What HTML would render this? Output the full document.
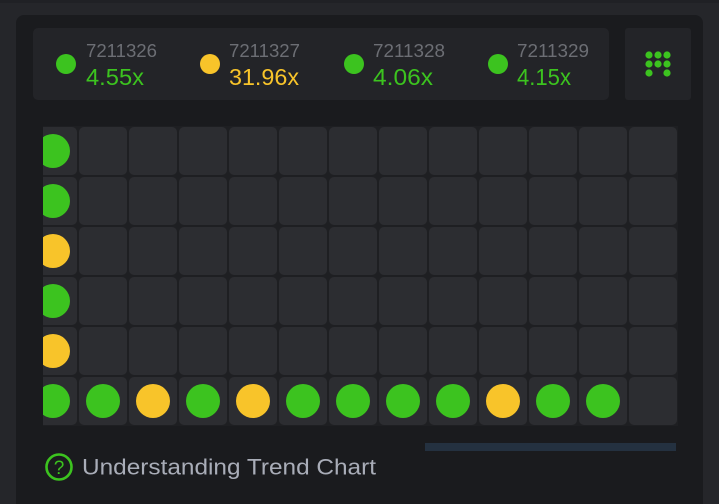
<!DOCTYPE html>
<html><head><meta charset="utf-8"><style>
html,body{margin:0;padding:0;background:#25262a;}
svg{display:block;}
</style></head><body>
<svg width="719" height="504" viewBox="0 0 719 504" xmlns="http://www.w3.org/2000/svg" font-family="'Liberation Sans', sans-serif">
<defs>
<clipPath id="gc"><rect x="43" y="120" width="640" height="310"/></clipPath>
</defs>
<rect x="0" y="0" width="719" height="504" fill="#25262a"/>
<rect x="0" y="0" width="719" height="3" fill="#202125"/>
<rect x="16" y="15" width="687" height="500" rx="8" fill="#1a1b1e"/>
<!-- header box -->
<rect x="33" y="28" width="576" height="72" rx="5" fill="#232428"/>
<rect x="625" y="28" width="66" height="72" rx="3" fill="#232428"/>
<!-- items -->
<circle cx="66" cy="64" r="10" fill="#3cc31f"/>
<text x="86" y="57" font-size="18" fill="#6c6e74" textLength="71" lengthAdjust="spacingAndGlyphs">7211326</text>
<text x="86" y="85" font-size="23" fill="#3cc31f" textLength="58" lengthAdjust="spacingAndGlyphs">4.55x</text>
<circle cx="210" cy="64" r="10" fill="#f8c42a"/>
<text x="229" y="57" font-size="18" fill="#6c6e74" textLength="71" lengthAdjust="spacingAndGlyphs">7211327</text>
<text x="229" y="85" font-size="23" fill="#f8c42a" textLength="70" lengthAdjust="spacingAndGlyphs">31.96x</text>
<circle cx="354" cy="64" r="10" fill="#3cc31f"/>
<text x="373" y="57" font-size="18" fill="#6c6e74" textLength="72" lengthAdjust="spacingAndGlyphs">7211328</text>
<text x="373" y="85" font-size="23" fill="#3cc31f" textLength="60" lengthAdjust="spacingAndGlyphs">4.06x</text>
<circle cx="498" cy="64" r="10" fill="#3cc31f"/>
<text x="517" y="57" font-size="18" fill="#6c6e74" textLength="72" lengthAdjust="spacingAndGlyphs">7211329</text>
<text x="517" y="85" font-size="23" fill="#3cc31f" textLength="54" lengthAdjust="spacingAndGlyphs">4.15x</text>
<!-- grid icon -->
<g fill="#3cc31f">
<circle cx="649" cy="55" r="3.6"/><circle cx="658" cy="55" r="3.6"/><circle cx="667" cy="55" r="3.6"/>
<circle cx="649" cy="64" r="3.6"/><circle cx="658" cy="64" r="3.6"/><circle cx="667" cy="64" r="3.6"/>
<circle cx="649" cy="73" r="3.6"/><circle cx="667" cy="73" r="3.6"/>
</g>
<!-- grid -->
<g clip-path="url(#gc)">
<rect x="28" y="126" width="650" height="300" fill="#1e1f22"/>
<g fill="#2c2d31">
<rect x="29" y="127" width="48" height="48" rx="5"/><rect x="79" y="127" width="48" height="48" rx="5"/><rect x="129" y="127" width="48" height="48" rx="5"/><rect x="179" y="127" width="48" height="48" rx="5"/><rect x="229" y="127" width="48" height="48" rx="5"/><rect x="279" y="127" width="48" height="48" rx="5"/><rect x="329" y="127" width="48" height="48" rx="5"/><rect x="379" y="127" width="48" height="48" rx="5"/><rect x="429" y="127" width="48" height="48" rx="5"/><rect x="479" y="127" width="48" height="48" rx="5"/><rect x="529" y="127" width="48" height="48" rx="5"/><rect x="579" y="127" width="48" height="48" rx="5"/><rect x="629" y="127" width="48" height="48" rx="5"/>
<rect x="29" y="177" width="48" height="48" rx="5"/><rect x="79" y="177" width="48" height="48" rx="5"/><rect x="129" y="177" width="48" height="48" rx="5"/><rect x="179" y="177" width="48" height="48" rx="5"/><rect x="229" y="177" width="48" height="48" rx="5"/><rect x="279" y="177" width="48" height="48" rx="5"/><rect x="329" y="177" width="48" height="48" rx="5"/><rect x="379" y="177" width="48" height="48" rx="5"/><rect x="429" y="177" width="48" height="48" rx="5"/><rect x="479" y="177" width="48" height="48" rx="5"/><rect x="529" y="177" width="48" height="48" rx="5"/><rect x="579" y="177" width="48" height="48" rx="5"/><rect x="629" y="177" width="48" height="48" rx="5"/>
<rect x="29" y="227" width="48" height="48" rx="5"/><rect x="79" y="227" width="48" height="48" rx="5"/><rect x="129" y="227" width="48" height="48" rx="5"/><rect x="179" y="227" width="48" height="48" rx="5"/><rect x="229" y="227" width="48" height="48" rx="5"/><rect x="279" y="227" width="48" height="48" rx="5"/><rect x="329" y="227" width="48" height="48" rx="5"/><rect x="379" y="227" width="48" height="48" rx="5"/><rect x="429" y="227" width="48" height="48" rx="5"/><rect x="479" y="227" width="48" height="48" rx="5"/><rect x="529" y="227" width="48" height="48" rx="5"/><rect x="579" y="227" width="48" height="48" rx="5"/><rect x="629" y="227" width="48" height="48" rx="5"/>
<rect x="29" y="277" width="48" height="48" rx="5"/><rect x="79" y="277" width="48" height="48" rx="5"/><rect x="129" y="277" width="48" height="48" rx="5"/><rect x="179" y="277" width="48" height="48" rx="5"/><rect x="229" y="277" width="48" height="48" rx="5"/><rect x="279" y="277" width="48" height="48" rx="5"/><rect x="329" y="277" width="48" height="48" rx="5"/><rect x="379" y="277" width="48" height="48" rx="5"/><rect x="429" y="277" width="48" height="48" rx="5"/><rect x="479" y="277" width="48" height="48" rx="5"/><rect x="529" y="277" width="48" height="48" rx="5"/><rect x="579" y="277" width="48" height="48" rx="5"/><rect x="629" y="277" width="48" height="48" rx="5"/>
<rect x="29" y="327" width="48" height="48" rx="5"/><rect x="79" y="327" width="48" height="48" rx="5"/><rect x="129" y="327" width="48" height="48" rx="5"/><rect x="179" y="327" width="48" height="48" rx="5"/><rect x="229" y="327" width="48" height="48" rx="5"/><rect x="279" y="327" width="48" height="48" rx="5"/><rect x="329" y="327" width="48" height="48" rx="5"/><rect x="379" y="327" width="48" height="48" rx="5"/><rect x="429" y="327" width="48" height="48" rx="5"/><rect x="479" y="327" width="48" height="48" rx="5"/><rect x="529" y="327" width="48" height="48" rx="5"/><rect x="579" y="327" width="48" height="48" rx="5"/><rect x="629" y="327" width="48" height="48" rx="5"/>
<rect x="29" y="377" width="48" height="48" rx="5"/><rect x="79" y="377" width="48" height="48" rx="5"/><rect x="129" y="377" width="48" height="48" rx="5"/><rect x="179" y="377" width="48" height="48" rx="5"/><rect x="229" y="377" width="48" height="48" rx="5"/><rect x="279" y="377" width="48" height="48" rx="5"/><rect x="329" y="377" width="48" height="48" rx="5"/><rect x="379" y="377" width="48" height="48" rx="5"/><rect x="429" y="377" width="48" height="48" rx="5"/><rect x="479" y="377" width="48" height="48" rx="5"/><rect x="529" y="377" width="48" height="48" rx="5"/><rect x="579" y="377" width="48" height="48" rx="5"/><rect x="629" y="377" width="48" height="48" rx="5"/>
</g>
<!-- first column -->
<circle cx="53" cy="151" r="17" fill="#3cc31f"/>
<circle cx="53" cy="201" r="17" fill="#3cc31f"/>
<circle cx="53" cy="251" r="17" fill="#f8c42a"/>
<circle cx="53" cy="301" r="17" fill="#3cc31f"/>
<circle cx="53" cy="351" r="17" fill="#f8c42a"/>
<!-- bottom row -->
<circle cx="53" cy="401" r="17" fill="#3cc31f"/>
<circle cx="103" cy="401" r="17" fill="#3cc31f"/>
<circle cx="153" cy="401" r="17" fill="#f8c42a"/>
<circle cx="203" cy="401" r="17" fill="#3cc31f"/>
<circle cx="253" cy="401" r="17" fill="#f8c42a"/>
<circle cx="303" cy="401" r="17" fill="#3cc31f"/>
<circle cx="353" cy="401" r="17" fill="#3cc31f"/>
<circle cx="403" cy="401" r="17" fill="#3cc31f"/>
<circle cx="453" cy="401" r="17" fill="#3cc31f"/>
<circle cx="503" cy="401" r="17" fill="#f8c42a"/>
<circle cx="553" cy="401" r="17" fill="#3cc31f"/>
<circle cx="603" cy="401" r="17" fill="#3cc31f"/>
</g>
<!-- scrollbar -->
<rect x="425" y="443" width="251" height="8" fill="#243140"/>
<!-- help -->
<circle cx="59" cy="467" r="12.5" fill="none" stroke="#3cc31f" stroke-width="2.6"/>
<text x="59" y="474" font-size="19" fill="#3cc31f" text-anchor="middle">?</text>
<text x="82" y="474.5" font-size="22" fill="#a9adb8" textLength="294" lengthAdjust="spacingAndGlyphs">Understanding Trend Chart</text>
</svg>
</body></html>
